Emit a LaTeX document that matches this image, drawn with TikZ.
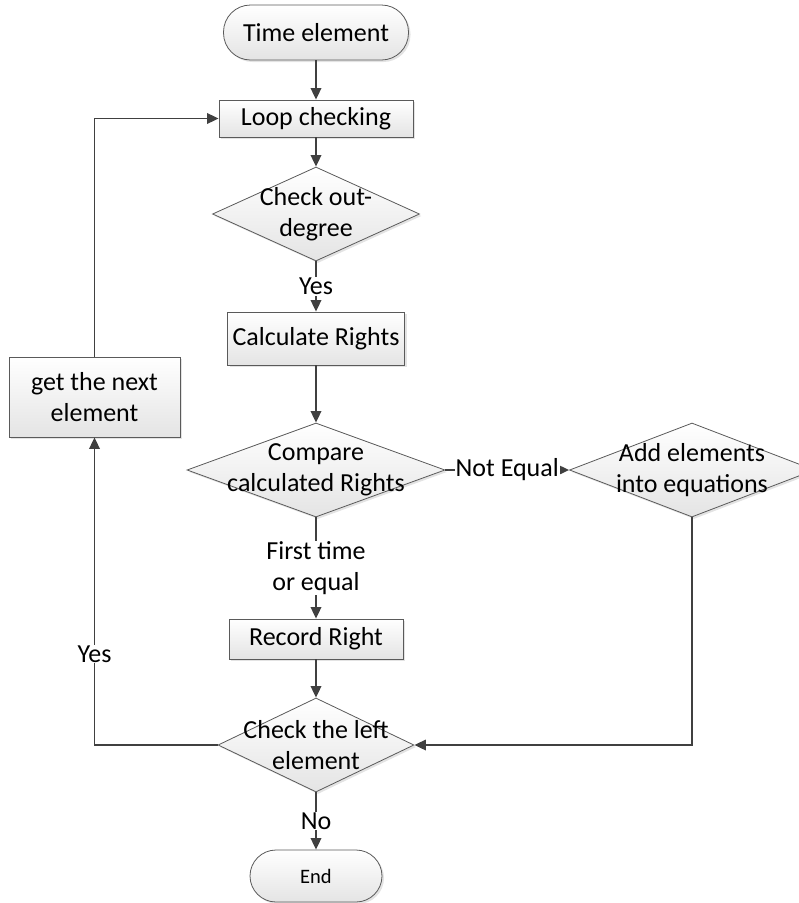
\documentclass[tikz,border=0pt]{standalone}
\usepackage{fontspec}
\setmainfont{Carlito}
\usetikzlibrary{shapes.geometric,arrows.meta,shadows}
\definecolor{edge}{HTML}{404040}
\definecolor{rim}{HTML}{5A5A5A}
\definecolor{shade}{HTML}{E4E4E4}
\tikzset{
  base/.style={draw=rim, line width=0.8pt, top color=white, bottom color=shade,
    drop shadow={shadow xshift=2pt, shadow yshift=-2pt, opacity=0.22, fill=gray},
    inner sep=0pt},
  procbox/.style={base, rectangle},
  termbox/.style={base, rectangle, rounded corners=#1},
  decbox/.style={base, diamond},
  txt/.style={font=\fontsize{26}{30.5}\selectfont, align=center, inner sep=0pt},
  small/.style={font=\fontsize{20.5}{24}\selectfont},
  conn/.style={draw=edge, line width=1.8pt, -{Triangle[width=10.5pt,length=11.5pt]}},
  tag/.style={txt, fill=white, inner sep=1pt}
}
\begin{document}
\begin{tikzpicture}[x=1pt,y=-1pt]
\useasboundingbox (0,0) rectangle (799,903);

% main column of the flow
\node[termbox=27pt, minimum width=185pt, minimum height=55pt, txt] (start) at (316,32.5) {Time element};
\node[procbox, minimum width=194pt, minimum height=37pt, txt] (loop) at (316,118.5) {Loop checking};
\node[decbox, minimum width=207pt, minimum height=94pt] (deg) at (316,214) {};
\node[txt] (degt) at (deg) {Check out-\\degree};
\node[procbox, minimum width=177pt, minimum height=53pt, txt] (calc) at (316,338.5) {Calculate Rights};
\node[decbox, minimum width=258pt, minimum height=94pt] (cmp) at (316,470) {};
\node[txt] (cmpt) at (cmp) {Compare\\calculated Rights};
\node[procbox, minimum width=174pt, minimum height=40pt, txt] (rec) at (316,639) {Record Right};
\node[decbox, minimum width=196pt, minimum height=94pt] (left) at (316,745) {};
\node[txt] (leftt) at (left) {Check the left\\element};
\node[termbox=26pt, minimum width=132pt, minimum height=52pt, txt, small] (stop) at (316,876) {End};

% side branches
\node[decbox, minimum width=245pt, minimum height=94pt] (add) at (692,470) {};
\node[txt] (addt) at (add) {Add elements\\into equations};
\node[procbox, minimum width=171pt, minimum height=80pt, txt] (next) at (94.5,397) {get the next\\element};

% connectors
\draw[conn] (start) -- (loop);
\draw[conn] (loop) -- (deg);
\draw[conn] (deg) -- node[tag] {Yes} (calc);
\draw[conn] (calc) -- (cmp);
\draw[conn] (cmp) -- node[tag] {Not Equal} (add);
\draw[conn] (cmp) -- node[tag] {First time\\or equal} (rec);
\draw[conn] (rec) -- (left);
\draw[conn] (add.south) |- (left.east);
\draw[conn] (left.west) -| node[tag, pos=0.648] {Yes} (next.south);
\draw[conn] (next.north) |- (loop.west);
\draw[conn] (left) -- node[tag] {No} (stop);
\end{tikzpicture}
\end{document}
